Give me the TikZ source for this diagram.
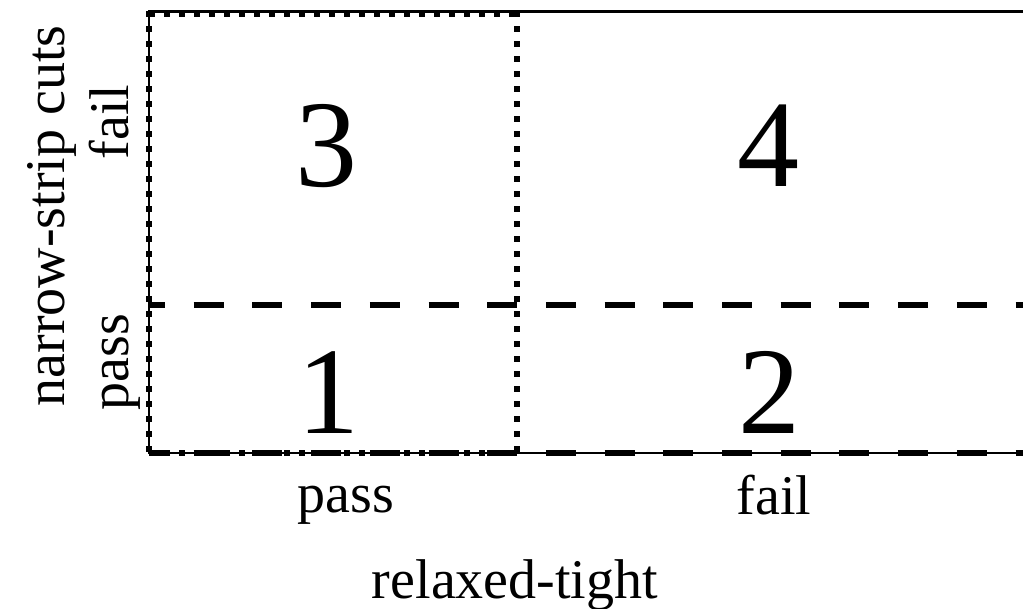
\documentclass[tikz,border=0pt]{standalone}
\usepackage{fontspec}
\setmainfont{Liberation Serif}
\begin{document}
\begin{tikzpicture}[x=1pt,y=-1pt,
  frame/.style={line width=2.2pt},
  dotline/.style={line width=6pt,dash pattern=on 6pt off 9pt},
  dashline/.style={line width=6pt,dash pattern=on 30pt off 28.7pt,dash phase=14pt},
  axislabel/.style={font=\fontsize{56}{60}\selectfont,inner sep=0pt,anchor=base},
  cellnum/.style={font=\fontsize{124}{130}\selectfont,inner sep=0pt,anchor=base}]
\useasboundingbox (0,0) rectangle (1023,609);
% grid corners
\coordinate (tl) at (149,11.5);
\coordinate (tr) at (1030,11.5);
\coordinate (bl) at (149,453);
\coordinate (br) at (1030,453);
\coordinate (mt) at (517,11.5);
\coordinate (mb) at (517,453);
\coordinate (ml) at (149,305);
\coordinate (mr) at (1030,305);
% outer frame
\draw[frame] (tl) rectangle (br);
% dashed band: lower row
\draw[dashline] (ml) -- (mr);
\draw[dashline] (bl) -- (br);
% dotted box: left column
\draw[dotline] (149,14) -- (517,14);
\draw[dotline] (mt) -- (mb);
\draw[dotline] (bl) -- (mb);
\draw[dotline] (tl) -- (bl);
% cell numbers
\node[cellnum] (c3) at (326,187) {3};
\node[cellnum] (c4) at (768,187) {4};
\node[cellnum] (c1) at (328,434) {1};
\node[cellnum] (c2) at (769,434) {2};
% axis labels
\node[axislabel] (xpass) at (346,512) {pass};
\node[axislabel] (xfail) at (774,514) {fail};
\node[axislabel] (xtitle) at (515,598) {relaxed-tight};
\node[axislabel,rotate=90] (yfail) at (128,122) {fail};
\node[axislabel,rotate=90] (ypass) at (128,362) {pass};
\node[axislabel,rotate=90] (ytitle) at (64,216) {narrow-strip cuts};
\end{tikzpicture}
\end{document}
